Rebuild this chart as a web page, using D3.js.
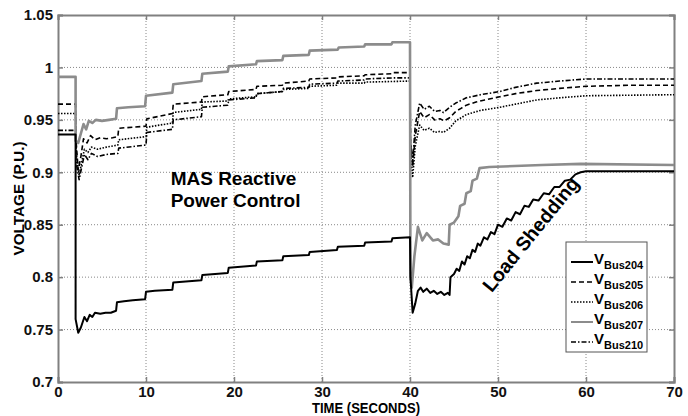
<!DOCTYPE html>
<html>
<head>
<meta charset="utf-8">
<script src="https://cdn.jsdelivr.net/npm/d3@7"></script>
<style>
body { margin: 0; background: #fff; }
svg text { font-family: "Liberation Sans", Arial, sans-serif; font-weight: bold; }
</style>
</head>
<body>
<div id="chart"></div>
<script>
// tick labels
var xTicks = [0, 10, 20, 30, 40, 50, 60, 70];
var yTicks = [0.7, 0.75, 0.8, 0.85, 0.9, 0.95, 1, 1.05];

var names = ['Bus204', 'Bus205', 'Bus206', 'Bus207', 'Bus210'];

// [time (s), voltage (p.u.)]
var bus204 = [[0, 0.936], [2, 0.936], [2, 0.76], [2.3, 0.747], [2.6, 0.752], [3.0, 0.762], [3.3, 0.758], [3.6, 0.764], [3.9, 0.762],
	[4.2, 0.766], [4.8, 0.765], [5.4, 0.766], [6.0, 0.766], [6.6, 0.768], [6.7, 0.776], [7.5, 0.777], [8.5, 0.778], [9.9, 0.779],
	[10.0, 0.786], [11, 0.787], [13.0, 0.788], [13.1, 0.795], [16.3, 0.797], [16.4, 0.802], [19.3, 0.804], [19.4, 0.809],
	[22.5, 0.811], [22.6, 0.815], [25.5, 0.816], [25.6, 0.820], [28.5, 0.821], [28.6, 0.824], [31.7, 0.826], [31.8, 0.829],
	[34.8, 0.830], [34.9, 0.833], [37.9, 0.834], [38.0, 0.837], [40, 0.838],
	[40.05, 0.80], [40.3, 0.766], [40.6, 0.775], [40.9, 0.787], [41.2, 0.790], [41.5, 0.786], [41.9, 0.789], [42.3, 0.785],
	[42.7, 0.787], [43.1, 0.784], [43.5, 0.786], [43.9, 0.783], [44.3, 0.785], [44.5, 0.783],
	[44.6, 0.800], [45.0, 0.803], [45.3, 0.808], [45.6, 0.806], [45.9, 0.815], [46.2, 0.812], [46.5, 0.820], [46.8, 0.818],
	[47.1, 0.826], [47.4, 0.824], [47.7, 0.832], [48.0, 0.830], [48.4, 0.838], [48.8, 0.836], [49.2, 0.843], [49.6, 0.841],
	[50.0, 0.850], [50.5, 0.848], [51.0, 0.856], [51.5, 0.854], [52.0, 0.862], [52.5, 0.860], [53.0, 0.868], [53.5, 0.867],
	[54.0, 0.874], [54.6, 0.873], [55.2, 0.880], [55.8, 0.879], [56.4, 0.886], [57.0, 0.886], [57.6, 0.892], [58.2, 0.893],
	[58.8, 0.898], [59.4, 0.900], [60, 0.901], [70, 0.901]];

var bus205 = [[0, 0.965], [2, 0.965], [2.05, 0.93], [2.3, 0.902], [2.6, 0.915], [2.9, 0.932], [3.3, 0.928], [3.7, 0.935],
	[4.2, 0.931], [4.8, 0.933], [5.5, 0.932], [6.2, 0.933], [6.8, 0.934], [6.9, 0.942], [8.5, 0.943], [10.0, 0.944],
	[10.1, 0.951], [13.0, 0.956], [13.1, 0.965], [16.3, 0.967], [16.4, 0.972], [19.3, 0.974], [19.4, 0.977], [22.5, 0.979],
	[22.6, 0.982], [25.5, 0.983], [25.6, 0.985], [28.5, 0.987], [28.6, 0.989], [31.7, 0.990], [31.8, 0.991], [34.8, 0.992],
	[34.9, 0.993], [37.9, 0.994], [38, 0.995], [40, 0.995],
	[40.05, 0.93], [40.3, 0.905], [40.6, 0.935], [41.1, 0.958], [41.6, 0.952], [42.2, 0.955], [42.8, 0.950], [43.4, 0.951],
	[43.9, 0.949], [44.5, 0.952], [45.2, 0.958], [45.8, 0.961], [46.4, 0.964], [47.5, 0.967], [48.5, 0.969], [50.2, 0.972],
	[52, 0.975], [54.4, 0.978], [57, 0.980], [60, 0.982], [65, 0.983], [70, 0.983]];

var bus206 = [[0, 0.956], [2, 0.956], [2.05, 0.92], [2.4, 0.897], [2.7, 0.910], [3.0, 0.922], [3.4, 0.919], [3.8, 0.924],
	[4.5, 0.922], [5.5, 0.924], [6.8, 0.926], [6.9, 0.931], [10.0, 0.934], [10.1, 0.943], [13.0, 0.947], [13.1, 0.957],
	[16.3, 0.960], [16.4, 0.967], [19.3, 0.968], [19.4, 0.970], [22.5, 0.972], [22.6, 0.975], [25.5, 0.977], [25.6, 0.979],
	[28.5, 0.980], [28.6, 0.982], [31.7, 0.983], [31.8, 0.985], [34.8, 0.985], [34.9, 0.986], [40, 0.987],
	[40.05, 0.92], [40.3, 0.895], [40.6, 0.925], [41.1, 0.945], [41.6, 0.940], [42.2, 0.942], [42.8, 0.938], [43.4, 0.939],
	[43.8, 0.938], [44.5, 0.942], [45.2, 0.949], [46.4, 0.955], [48, 0.959], [50.2, 0.962], [52, 0.965], [54.4, 0.969],
	[57, 0.971], [60, 0.973], [70, 0.974]];

var bus207 = [[0, 0.991], [2, 0.991], [2, 0.93], [2.3, 0.928], [2.6, 0.937], [2.9, 0.946], [3.2, 0.941], [3.5, 0.949],
	[3.9, 0.947], [4.3, 0.950], [5.0, 0.949], [5.8, 0.950], [6.6, 0.951], [6.7, 0.961], [8, 0.962], [9.9, 0.963],
	[10.0, 0.973], [13.0, 0.976], [13.1, 0.984], [16.3, 0.987], [16.4, 0.994], [19.3, 0.996], [19.4, 1.001], [22.5, 1.003],
	[22.6, 1.006], [25.5, 1.007], [25.6, 1.011], [28.5, 1.012], [28.6, 1.016], [31.8, 1.017], [31.9, 1.019], [34.8, 1.020],
	[34.9, 1.022], [37.9, 1.022], [38.0, 1.024], [40, 1.024],
	[40.05, 0.80], [40.2, 0.79], [40.5, 0.82], [40.9, 0.848], [41.4, 0.835], [41.9, 0.842], [42.6, 0.835], [43.2, 0.836],
	[43.8, 0.832], [44.4, 0.831], [44.5, 0.85], [45.0, 0.852], [45.5, 0.858], [45.7, 0.868], [46.2, 0.870], [46.4, 0.880],
	[46.9, 0.882], [47.1, 0.892], [47.6, 0.894], [47.9, 0.904], [49, 0.905], [55, 0.907], [59.4, 0.908], [70, 0.907]];

var bus210 = [[0, 0.940], [2, 0.940], [2.05, 0.91], [2.4, 0.893], [2.7, 0.905], [3.0, 0.917], [3.4, 0.912], [3.8, 0.918],
	[4.5, 0.915], [5.5, 0.917], [6.8, 0.918], [6.9, 0.923], [10.0, 0.926], [10.1, 0.938], [13.0, 0.941], [13.1, 0.950],
	[16.3, 0.953], [16.4, 0.962], [19.3, 0.964], [19.4, 0.969], [22.5, 0.971], [22.6, 0.975], [25.5, 0.977], [25.6, 0.980],
	[28.5, 0.981], [28.6, 0.984], [31.7, 0.985], [31.8, 0.987], [34.8, 0.988], [34.9, 0.989], [38, 0.990], [40, 0.990],
	[40.05, 0.93], [40.3, 0.91], [40.6, 0.945], [41.1, 0.966], [41.6, 0.960], [42.2, 0.963], [42.8, 0.958], [43.4, 0.959],
	[43.8, 0.957], [44.5, 0.962], [45.2, 0.966], [46.4, 0.971], [48, 0.974], [50.2, 0.977], [52, 0.981], [54.4, 0.985],
	[57, 0.987], [60, 0.989], [70, 0.989]];

var width = 688, height = 416;
var margin = {left: 58, top: 15, right: 14, bottom: 34};
var plotW = width - margin.left - margin.right;
var plotH = height - margin.top - margin.bottom;

// 线型
var styles = {
	Bus204: {color: '#000', w: 2, dash: null},
	Bus205: {color: '#000', w: 1.6, dash: '5,3'},
	Bus206: {color: '#000', w: 1.6, dash: '1.5,1.5'},
	Bus207: {color: '#8c8c8c', w: 2.6, dash: null},
	Bus210: {color: '#000', w: 1.6, dash: '5,2,1.5,2'}
};
var seriesData = {Bus204: bus204, Bus205: bus205, Bus206: bus206, Bus207: bus207, Bus210: bus210};

var svg = d3.select('#chart').append('svg')
	.attr('width', width)
	.attr('height', height);

var x = d3.scaleLinear().domain([0, 70]).range([margin.left, margin.left + plotW]);
var y = d3.scaleLinear().domain([0.7, 1.05]).range([margin.top + plotH, margin.top]);

// grid
svg.append('g')
	.selectAll('line')
	.data(yTicks.slice(1, -1))
	.enter()
	.append('line')
	.attr('x1', x(0)).attr('x2', x(70))
	.attr('y1', d => y(d)).attr('y2', d => y(d))
	.attr('stroke', '#888').attr('stroke-width', 1).attr('stroke-dasharray', '1,2');
svg.append('g')
	.selectAll('line')
	.data(xTicks.slice(1, -1))
	.enter()
	.append('line')
	.attr('y1', y(0.7)).attr('y2', y(1.05))
	.attr('x1', d => x(d)).attr('x2', d => x(d))
	.attr('stroke', '#888').attr('stroke-width', 1).attr('stroke-dasharray', '1,2');

// axes
svg.append('g')
	.attr('transform', 'translate(0,' + y(0.7) + ')')
	.call(d3.axisBottom(x).tickValues(xTicks).tickSize(-5).tickPadding(4).tickFormat(d3.format('d')));
svg.append('g')
	.attr('transform', 'translate(' + x(0) + ',0)')
	.call(d3.axisLeft(y).tickValues(yTicks).tickSize(-5).tickPadding(5).tickFormat(d => String(d)));
svg.append('g')
	.attr('transform', 'translate(0,' + y(1.05) + ')')
	.call(d3.axisTop(x).tickValues(xTicks).tickSize(-5).tickFormat(''));
svg.append('g')
	.attr('transform', 'translate(' + x(70) + ',0)')
	.call(d3.axisRight(y).tickValues(yTicks).tickSize(-5).tickFormat(''));

svg.selectAll('.domain').attr('stroke', '#808080').attr('stroke-width', 2);
svg.selectAll('.tick line').attr('stroke', '#808080').attr('stroke-width', 1.5);
svg.selectAll('.tick text').attr('fill', '#111').style('font-size', '15px');

// lines
var line = d3.line().x(d => x(d[0])).y(d => y(d[1]));
var drawOrder = ['Bus205', 'Bus206', 'Bus210', 'Bus207', 'Bus204'];
svg.append('g')
	.selectAll('path')
	.data(drawOrder)
	.enter()
	.append('path')
	.attr('d', d => line(seriesData[d]))
	.attr('fill', 'none')
	.attr('stroke', d => styles[d].color)
	.attr('stroke-width', d => styles[d].w)
	.attr('stroke-dasharray', d => styles[d].dash)
	.attr('stroke-linejoin', 'round');

// axis titles (condensed like the original)
svg.append('text')
	.attr('x', (x(0) + x(70)) / 2 - 54).attr('y', 413)
	.attr('textLength', 108).attr('lengthAdjust', 'spacingAndGlyphs')
	.style('font-size', '15px')
	.text('TIME (SECONDS)');
svg.append('text')
	.attr('transform', 'translate(24,' + ((y(0.7) + y(1.05)) / 2 + 57) + ') rotate(-90)')
	.attr('textLength', 114).attr('lengthAdjust', 'spacingAndGlyphs')
	.style('font-size', '15px')
	.text('VOLTAGE (P.U.)');

// annotations
var note = svg.append('text')
	.attr('x', x(12.8)).attr('y', 185)
	.style('font-size', '19px');
note.append('tspan').attr('x', x(12.8)).text('MAS Reactive');
note.append('tspan').attr('x', x(12.8)).attr('dy', 22).text('Power Control');

svg.append('text')
	.attr('transform', 'translate(' + x(53.7) + ',' + y(0.841) + ') rotate(-51)')
	.attr('text-anchor', 'middle')
	.attr('dy', 7)
	.style('font-size', '19.5px')
	.text('Load Shedding');

// legend
var lg = {x: 566, y: 242, w: 81, h: 110, row: 20};
var legend = svg.append('g');
legend.append('rect')
	.attr('x', lg.x).attr('y', lg.y).attr('width', lg.w).attr('height', lg.h)
	.attr('fill', '#fff').attr('stroke', '#555').attr('stroke-width', 1);
var rows = legend.selectAll('.row')
	.data(names)
	.enter()
	.append('g')
	.attr('transform', (d, i) => 'translate(' + lg.x + ',' + (lg.y + 20 + i * lg.row) + ')');
rows.append('line')
	.attr('x1', 5).attr('x2', 27).attr('y1', 0).attr('y2', 0)
	.attr('stroke', d => styles[d].color)
	.attr('stroke-width', d => Math.min(styles[d].w, 2))
	.attr('stroke-dasharray', d => styles[d].dash);
var lt = rows.append('text')
	.attr('x', 28).attr('y', 2);
lt.append('tspan').style('font-size', '15px').text('V');
lt.append('tspan').attr('dy', 5).style('font-size', '11px').text(d => d);
</script>
</body>
</html>
